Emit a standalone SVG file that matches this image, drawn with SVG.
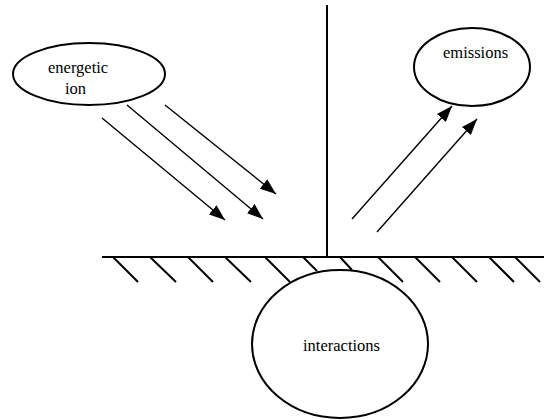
<svg xmlns="http://www.w3.org/2000/svg" width="544" height="420" viewBox="0 0 544 420">
<style>
.node{fill:#fff;stroke:#000;stroke-width:2}
.lbl{font-family:"Liberation Serif","Times New Roman",serif;font-size:16.5px;fill:#000}
.arr{stroke:#000;stroke-width:1.4;fill:none;marker-end:url(#ah)}
.ln{stroke:#000;stroke-width:2;fill:none}
.hatch{stroke:#000;stroke-width:2;fill:none}
</style>
<defs>
<marker id="ah" viewBox="0 0 16 12" refX="16" refY="6" markerWidth="16" markerHeight="12" markerUnits="userSpaceOnUse" orient="auto">
<path d="M0,0 L16,6 L0,12 z" fill="#000"/>
</marker>
</defs>
<rect width="544" height="420" fill="#fff"/>
<g id="surface">
<line class="ln" x1="327" y1="5" x2="327" y2="257"/>
<line class="ln" x1="102" y1="257" x2="544" y2="257"/>
<line class="hatch" x1="113" y1="257" x2="138" y2="282"/>
<line class="hatch" x1="150" y1="257" x2="176" y2="282"/>
<line class="hatch" x1="188" y1="257" x2="213" y2="282"/>
<line class="hatch" x1="225" y1="257" x2="251" y2="282"/>
<line class="hatch" x1="265" y1="257" x2="290" y2="282"/>
<line class="hatch" x1="303" y1="257" x2="317" y2="271"/>
<line class="hatch" x1="340" y1="257" x2="352" y2="270"/>
<line class="hatch" x1="378" y1="257" x2="403" y2="282"/>
<line class="hatch" x1="415" y1="257" x2="440" y2="282"/>
<line class="hatch" x1="452" y1="257" x2="477" y2="282"/>
<line class="hatch" x1="489" y1="257" x2="514" y2="282"/>
<line class="hatch" x1="515" y1="257" x2="540" y2="282"/>
</g>
<g id="connectors">
<line class="arr" x1="102" y1="118" x2="225" y2="220"/>
<line class="arr" x1="127" y1="105" x2="263" y2="219"/>
<line class="arr" x1="165" y1="105" x2="276" y2="194"/>
<line class="arr" x1="352" y1="219" x2="452" y2="106"/>
<line class="arr" x1="377" y1="232" x2="477" y2="119"/>
</g>
<g id="energetic-ion">
<ellipse class="node" cx="89" cy="74" rx="76" ry="31"/>
<text class="lbl" x="48" y="73">energetic</text>
<text class="lbl" x="65" y="94">ion</text>
</g>
<g id="emissions">
<ellipse class="node" cx="472" cy="67" rx="58" ry="39"/>
<text class="lbl" x="443" y="58">emissions</text>
</g>
<g id="interactions">
<ellipse class="node" cx="340" cy="344" rx="88" ry="74"/>
<text class="lbl" x="303" y="351">interactions</text>
</g>
</svg>
